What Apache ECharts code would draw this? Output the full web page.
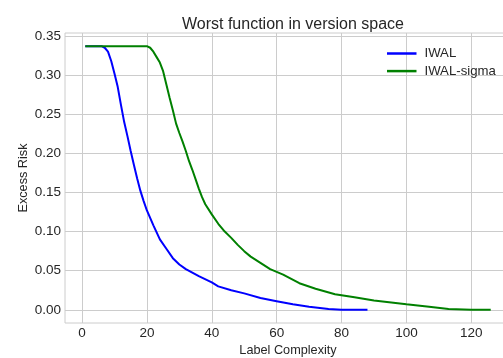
<!DOCTYPE html>
<html>
<head>
<meta charset="utf-8">
<script src="https://cdn.jsdelivr.net/npm/echarts@6/dist/echarts.min.js"></script>
<style>html,body{margin:0;padding:0;background:#fff}#c{width:503px;height:358px}</style>
</head>
<body>
<div id="c"></div>
<script>
const titleText = "Worst function in version space";
const xName = "Label Complexity";
const yName = "Excess Risk";
const xTicks = [0, 20, 40, 60, 80, 100, 120];
const yTicks = [0, 0.05, 0.10, 0.15, 0.20, 0.25, 0.30, 0.35];
const seriesNames = ["IWAL", "IWAL-sigma"];
const iwal = [[1,0.337],[6,0.337],[7,0.335],[8,0.330],[9,0.318],[10,0.302],[11,0.285],[12,0.262],[13,0.240],[14,0.222],[15,0.203],[16,0.185],[17,0.168],[18,0.152],[19,0.139],[20,0.127],[22,0.108],[24,0.090],[26,0.078],[28,0.066],[30,0.058],[32,0.052],[36,0.043],[40,0.035],[42,0.030],[46,0.025],[50,0.021],[55,0.015],[60,0.011],[65,0.007],[70,0.004],[76,0.001],[80,0.0],[88,0.0]];
const iwalSigma = [[1,0.337],[20,0.337],[21,0.335],[22,0.330],[23,0.323],[24,0.316],[25,0.305],[26,0.288],[27,0.271],[28,0.255],[29,0.238],[30,0.226],[31,0.215],[32,0.203],[33,0.190],[34,0.179],[35,0.167],[36,0.155],[37,0.144],[38,0.135],[40,0.122],[42,0.110],[44,0.100],[46,0.092],[48,0.083],[50,0.075],[52,0.068],[55,0.060],[58,0.052],[62,0.045],[67,0.034],[72,0.027],[78,0.020],[84,0.016],[90,0.012],[100,0.007],[107,0.004],[113,0.001],[120,0.000],[126,0.000]];
const colors = ["#0000ff", "#008000"];

const font = "Liberation Sans, Arial, sans-serif";
const txt = "#262626";
const chart = echarts.init(document.getElementById('c'), null, {renderer: 'canvas'});
chart.setOption({
  animation: false,
  backgroundColor: '#fff',
  title: {text: titleText, left: 288, textAlign: 'center', top: 12,
    textStyle: {fontFamily: font, fontSize: 16, fontWeight: 'normal', color: txt}},
  legend: {orient: 'vertical', left: 382, top: 42, itemWidth: 29.5, itemHeight: 2.5, itemGap: 4.6,
    icon: 'rect', data: seriesNames,
    textStyle: {fontFamily: font, fontSize: 13.2, color: txt, padding: [0,0,0,3]}},
  grid: {left: 65, top: 33, width: 446, height: 290, show: true, borderColor: '#cccccc', borderWidth: 1,
    containLabel: false, outerBoundsMode: 'none'},
  xAxis: {type: 'value', min: -5.25, max: 132.25, name: xName, nameLocation: 'middle', nameGap: 21,
    nameMoveOverlap: false,
    nameTextStyle: {fontFamily: font, fontSize: 12.7, color: txt},
    axisLine: {show: false}, axisTick: {show: false, customValues: xTicks},
    axisLabel: {customValues: xTicks, fontFamily: font, fontSize: 13.5, color: txt, margin: 3},
    splitLine: {show: true, lineStyle: {color: '#cccccc', width: 1}}},
  yAxis: {type: 'value', min: -0.01685, max: 0.35385, name: yName, nameLocation: 'middle', nameGap: 35,
    nameMoveOverlap: false,
    nameTextStyle: {fontFamily: font, fontSize: 12.7, color: txt},
    axisLine: {show: false}, axisTick: {show: false, customValues: yTicks},
    axisLabel: {customValues: yTicks, fontFamily: font, fontSize: 13.5, color: txt, margin: 4,
      formatter: v => v.toFixed(2)},
    splitLine: {show: true, lineStyle: {color: '#cccccc', width: 1}}},
  series: [
    {name: seriesNames[0], type: 'line', data: iwal, symbol: 'none', color: colors[0], lineStyle: {width: 2, color: colors[0]}},
    {name: seriesNames[1], type: 'line', data: iwalSigma, symbol: 'none', color: colors[1], lineStyle: {width: 2, color: colors[1]}}
  ]
});
</script>
</body>
</html>
